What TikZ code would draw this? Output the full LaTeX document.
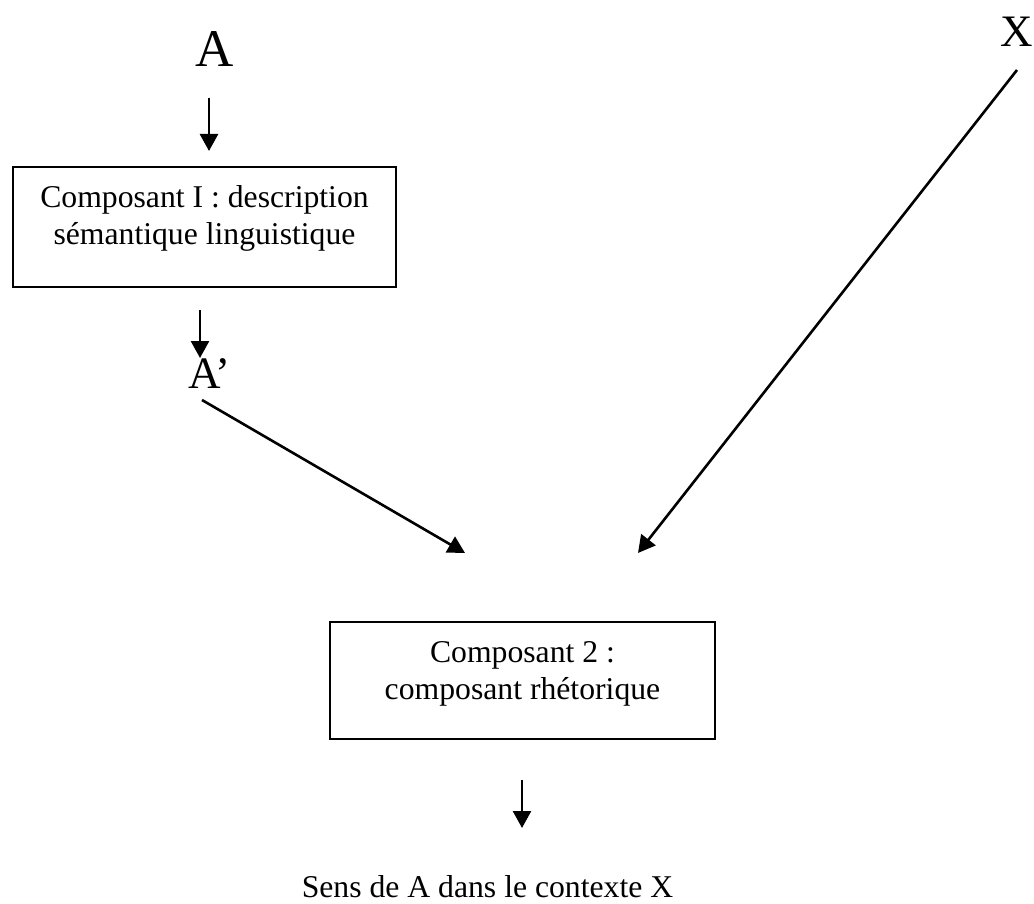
\documentclass[tikz,border=0pt]{standalone}
\usepackage{fontspec}
\setmainfont{Liberation Serif}
\usetikzlibrary{arrows.meta}
\begin{document}
\begin{tikzpicture}[x=1pt,y=-1pt,
  arr/.style={line width=2.6pt, -{Triangle[length=17pt,width=18pt]}},
  boxframe/.style={draw, line width=2.4pt, minimum width=383pt, minimum height=120pt, inner sep=0pt},
  boxtext/.style={align=center, anchor=north, inner sep=0pt, font=\fontsize{31.7}{37.5}\selectfont},
  label/.style={inner sep=0pt, anchor=base}]
\useasboundingbox (0,0) rectangle (1034,904);

% the two component boxes
\node[boxframe] (box1) at (204.5,227) {};
\node[boxtext] (box1txt) at (204.5,185) {Composant I : description\\sémantique linguistique};
\node[boxframe, minimum width=385pt, minimum height=117pt] (box2) at (522.5,680.5) {};
\node[boxtext] (box2txt) at (522.5,641) {Composant 2 :\\composant rhétorique};

% free labels
\node[label, font=\fontsize{53}{60}\selectfont] (A) at (215,67) {A};
\node[label, anchor=base west, font=\fontsize{45}{54}\selectfont] (Ap) at (188,388) {A’};
\node[label, font=\fontsize{45}{54}\selectfont] (X) at (1016.5,47) {X};
\node[label, font=\fontsize{31.7}{38}\selectfont] (sens) at (487.5,897) {Sens de A dans le contexte X};

% arrow end points
\coordinate (AtoBoxS) at (209,98);
\coordinate (AtoBoxE) at (209,151);
\coordinate (BoxToApS) at (200,310);
\coordinate (BoxToApE) at (200,358);
\coordinate (ApInS) at (202,400);
\coordinate (ApInE) at (465,553);
\coordinate (XInS) at (1017,70);
\coordinate (XInE) at (638,553);
\coordinate (OutS) at (522,780);
\coordinate (OutE) at (522,828);

\draw[arr] (AtoBoxS) -- (AtoBoxE);
\draw[arr] (BoxToApS) -- (BoxToApE);
\draw[arr] (ApInS) -- (ApInE);
\draw[arr] (XInS) -- (XInE);
\draw[arr] (OutS) -- (OutE);
\end{tikzpicture}
\end{document}
